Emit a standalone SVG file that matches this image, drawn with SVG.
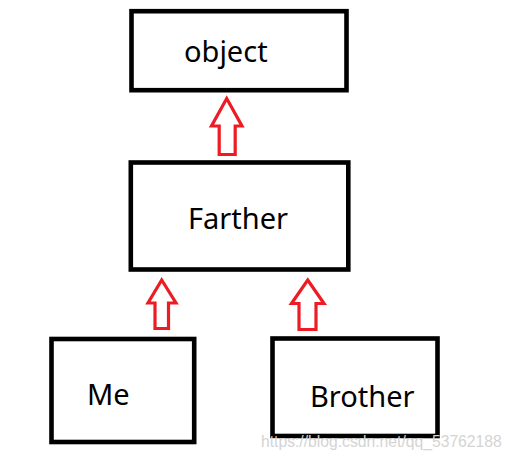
<svg xmlns="http://www.w3.org/2000/svg" width="513" height="461" viewBox="0 0 513 461">
<style>
.box{fill:#fff;stroke:#000;stroke-width:4.6}
.lbl{font-family:"Noto Sans","Open Sans",sans-serif;font-size:29px;fill:#000}
.arr{fill:#fff;stroke:#ED1C24;stroke-width:3.2;stroke-linejoin:miter}
.wm{font-family:"Liberation Sans",Arial,sans-serif;font-size:15.7px;fill:#d4d4d4}
</style>
<rect width="513" height="461" fill="#fff"/>
<g id="connectors">
<polygon class="arr" points="226.7,98.5 242,126 235.2,126 235.2,154.5 219.2,154.5 219.2,126 211.5,126"/>
<polygon class="arr" points="161.7,280 176,303 168.5,303 168.5,328.5 155,328.5 155,303 148,303"/>
<polygon class="arr" points="307.7,280 324,303.5 316,303.5 316,329.5 299,329.5 299,303.5 291.5,303.5"/>
</g>
<g id="node-object">
<rect class="box" x="131.5" y="11.2" width="215" height="79"/>
<text class="lbl" x="184" y="62">object</text>
</g>
<g id="node-farther">
<rect class="box" x="130.8" y="162.5" width="217.5" height="107"/>
<text class="lbl" x="188" y="229">Farther</text>
</g>
<g id="node-me">
<rect class="box" x="51.5" y="339" width="142.7" height="103"/>
<text class="lbl" x="87" y="405">Me</text>
</g>
<g id="node-brother">
<rect class="box" x="272.5" y="338.5" width="165" height="97.5"/>
<text class="lbl" x="310" y="407">Brother</text>
</g>
<text class="wm" x="261" y="447">https://blog.csdn.net/qq_53762188</text>
</svg>
